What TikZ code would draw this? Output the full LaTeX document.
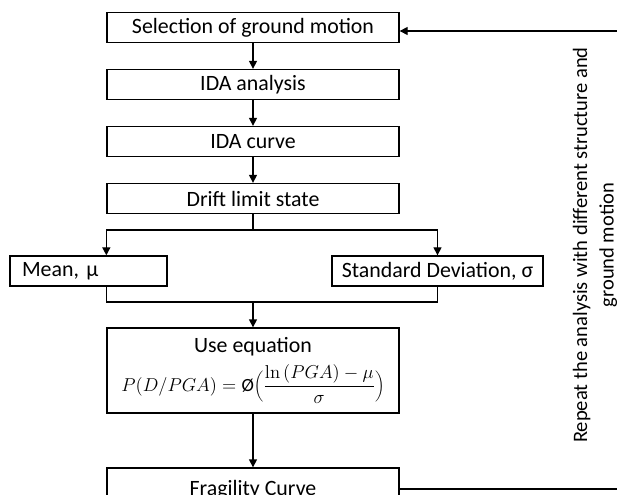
\documentclass[tikz,border=0pt]{standalone}
\usepackage[no-math]{fontspec}
\usepackage{graphicx}
\setmainfont{Carlito}
\usetikzlibrary{arrows.meta}
\begin{document}
\begin{tikzpicture}[x=0.75pt,y=-0.75pt, line width=1pt,
  box/.style={draw, line width=1pt, minimum height=22.5pt, inner sep=0pt, font=\fontsize{16.4}{19}\selectfont},
  wide/.style={box, minimum width=219pt},
  arr/.style={-{Triangle[length=6pt,width=6pt]}}]
\useasboundingbox (0,0) rectangle (617,495);
\clip (0,0) rectangle (617,495);
\node[wide] (sel) at (253,27.5) {Selection of ground motion};
\node[wide] (ida) at (253,84.5) {IDA analysis};
\node[wide] (curve) at (253,141.5) {IDA curve};
\node[wide] (drift) at (253,198.5) {Drift limit state};
\node[box, minimum width=117.75pt, text width=99.75pt, inner xsep=9pt, align=left] (mean) at (88.5,271) {Mean, μ};
\node[box, minimum width=158.25pt] (std) at (437.5,271) {Standard Deviation, σ};
\node[wide, minimum height=63.75pt, align=center] (eq) at (253,370.5)
  {Use equation\\[5.5pt] \scalebox{0.97}{\fontsize{14.4}{16}\selectfont$\displaystyle P(D/PGA)=\mbox{Ø}\biggl(\frac{\ln\,(PGA)-\mu}{\sigma}\biggr)$}};
\node[wide, minimum height=33pt] (frag) at (253,490) {Fragility Curve};
\draw[arr] (sel) -- (ida);
\draw[arr] (ida) -- (curve);
\draw[arr] (curve) -- (drift);
\coordinate (split) at (253,230);
\draw (drift.south) -- (split);
\draw[arr] (split) -| (mean.north -| drift.west);
\draw[arr] (split) -| (std.north);
\coordinate (merge) at (253,302);
\draw (mean.south -| drift.west) |- (merge);
\draw (std.south) |- (merge);
\draw[arr] (merge) -- (eq.north);
\draw[arr] (eq) -- (frag);
\coordinate (rb) at (640,489);
\coordinate (rt) at (640,31);
\draw[arr] (frag.east |- rb) -- (rb) -- (rt) -- (sel.east |- rt);
\node[rotate=90, align=center, font=\fontsize{15.4}{20}\selectfont] (note) at (595,245)
  {Repeat the analysis with different structure and\\ground motion};
\end{tikzpicture}
\end{document}
